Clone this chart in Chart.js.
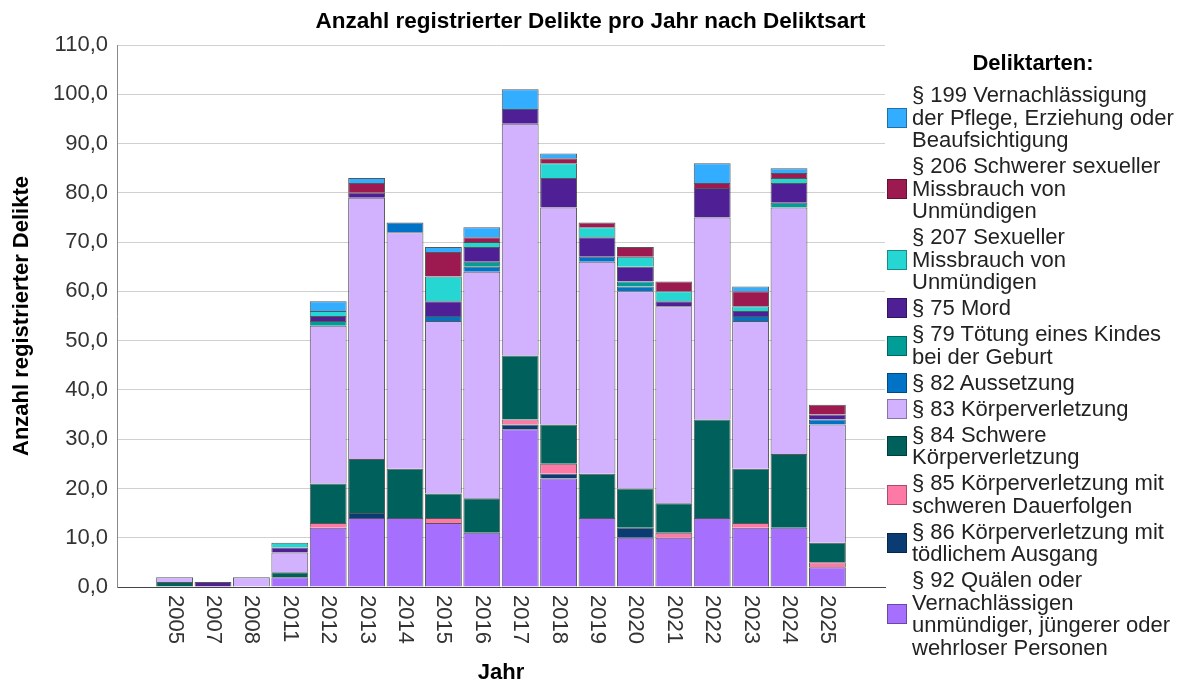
<!DOCTYPE html>
<html lang="de">
<head>
<meta charset="utf-8">
<title>Anzahl registrierter Delikte pro Jahr nach Deliktsart</title>
<script src="https://cdn.jsdelivr.net/npm/chart.js@4.4.1/dist/chart.umd.min.js"></script>
<style>
  html, body { margin: 0; padding: 0; background: #fff; }
  body { width: 1181px; height: 684px; position: relative; overflow: hidden;
         font-family: "Liberation Sans", Arial, sans-serif; }
  #wrap { position: absolute; left: 0; top: 0; width: 1181px; height: 684px; }
  #title { position: absolute; left: 0; top: 8px; width: 1181px; text-align: center;
           font-size: 22.5px; font-weight: bold; line-height: 25px; color: #000; }
  #legend { position: absolute; left: 885px; top: 50px; width: 296px; }
  #legend .head { font-size: 22px; font-weight: bold; line-height: 25px; text-align: center;
                  margin-bottom: 9px; color: #000; }
  .item { display: flex; align-items: center; margin-bottom: 3.5px; }
  .box { flex: none; width: 20px; height: 20px; margin-left: 2px; margin-right: 5px;
         box-sizing: border-box; border: 1px solid rgba(0,0,0,0.35); }
  .txt { font-size: 22px; line-height: 22.5px; color: #222; white-space: pre-line; }
</style>
</head>
<body>
<div id="wrap"><canvas id="chart" width="1181" height="684"></canvas></div>
<div id="title">Anzahl registrierter Delikte pro Jahr nach Deliktsart</div>
<div id="legend"><div class="head">Deliktarten:</div></div>
<script>
// years on the x axis
const years = ['2005', '2007', '2008', '2011', '2012', '2013', '2014', '2015', '2016',
               '2017', '2018', '2019', '2020', '2021', '2022', '2023', '2024', '2025'];

// counts per offence type (stack order, bottom first)
const p92  = [0, 0, 0, 2, 12, 14, 14, 13, 11, 32, 22, 14, 10, 10, 14, 12, 12, 4];
const p86  = [0, 0, 0, 0, 0, 1, 0, 0, 0, 1, 1, 0, 2, 0, 0, 0, 0, 0];
const p85  = [0, 0, 0, 0, 1, 0, 0, 1, 0, 1, 2, 0, 0, 1, 0, 1, 0, 1];
const p84  = [1, 0, 0, 1, 8, 11, 10, 5, 7, 13, 8, 9, 8, 6, 20, 11, 15, 4];
const p83  = [1, 0, 2, 4, 32, 53, 48, 35, 46, 47, 44, 43, 40, 40, 41, 30, 50, 24];
const p82  = [0, 0, 0, 0, 0, 0, 2, 1, 1, 0, 0, 1, 1, 0, 0, 1, 0, 1];
const p79  = [0, 0, 0, 0, 1, 0, 0, 0, 1, 0, 0, 0, 1, 0, 0, 0, 1, 0];
const p75  = [0, 1, 0, 1, 1, 1, 0, 3, 3, 3, 6, 4, 3, 1, 6, 1, 4, 1];
const p207 = [0, 0, 0, 1, 1, 0, 0, 5, 1, 0, 3, 2, 2, 2, 0, 1, 1, 0];
const p206 = [0, 0, 0, 0, 0, 2, 0, 5, 1, 0, 1, 1, 2, 2, 1, 3, 1, 2];
const p199 = [0, 0, 0, 0, 2, 1, 0, 1, 2, 4, 1, 0, 0, 0, 4, 1, 1, 0];

const yTicks = [0, 10, 20, 30, 40, 50, 60, 70, 80, 90, 100, 110];

const series = [
  { label: '§ 92 Quälen oder\nVernachlässigen\nunmündiger, jüngerer oder\nwehrloser Personen', data: p92, color: '#a66ffe' },
  { label: '§ 86 Körperverletzung mit\ntödlichem Ausgang', data: p86, color: '#0b3b73' },
  { label: '§ 85 Körperverletzung mit\nschweren Dauerfolgen', data: p85, color: '#ff79a6' },
  { label: '§ 84 Schwere\nKörperverletzung', data: p84, color: '#00605b' },
  { label: '§ 83 Körperverletzung', data: p83, color: '#d2b2ff' },
  { label: '§ 82 Aussetzung', data: p82, color: '#0073c7' },
  { label: '§ 79 Tötung eines Kindes\nbei der Geburt', data: p79, color: '#009e97' },
  { label: '§ 75 Mord', data: p75, color: '#4f1f96' },
  { label: '§ 207 Sexueller\nMissbrauch von\nUnmündigen', data: p207, color: '#25d6d2' },
  { label: '§ 206 Schwerer sexueller\nMissbrauch von\nUnmündigen', data: p206, color: '#9d1a51' },
  { label: '§ 199 Vernachlässigung\nder Pflege, Erziehung oder\nBeaufsichtigung', data: p199, color: '#33adff' }
];

// one empty slot on each side, like the original axis
const pad = arr => [null, ...arr.map(v => (v === 0 ? null : v)), null];
const labels = ['', ...years, ''];

const FONT = '"Liberation Sans", Arial, sans-serif';

// draws year labels turned clockwise (reading top to bottom)
const yearLabels = {
  id: 'yearLabels',
  afterDraw(chart) {
    const xs = chart.scales.x;
    const ctx = chart.ctx;
    ctx.save();
    ctx.font = '22px ' + FONT;
    ctx.fillStyle = '#333';
    ctx.textAlign = 'left';
    ctx.textBaseline = 'middle';
    chart.data.labels.forEach((lab, i) => {
      if (!lab) return;
      ctx.save();
      ctx.translate(xs.getPixelForValue(i), xs.top + 8);
      ctx.rotate(Math.PI / 2);
      ctx.fillText(lab, 0, 0);
      ctx.restore();
    });
    ctx.restore();
  }
};

const chart = new Chart(document.getElementById('chart'), {
  type: 'bar',
  data: {
    labels: labels,
    datasets: series.map(s => ({
      label: s.label,
      data: pad(s.data),
      backgroundColor: s.color,
      borderColor: 'rgba(45,45,45,0.8)',
      borderWidth: 1,
      barPercentage: 1,
      categoryPercentage: 0.96
    }))
  },
  options: {
    responsive: false,
    animation: false,
    layout: { padding: { left: 4, right: 296, top: 45, bottom: 0 } },
    plugins: {
      legend: { display: false },
      tooltip: { enabled: false }
    },
    scales: {
      x: {
        stacked: true,
        afterFit: scale => { scale.height = 97; },
        grid: { display: false },
        border: { color: '#444' },
        ticks: {
          color: 'rgba(0,0,0,0)',
          font: { family: FONT, size: 22 },
          minRotation: 90, maxRotation: 90,
          autoSkip: false,
          padding: 8
        },
        title: {
          display: true, text: 'Jahr', color: '#000',
          font: { family: FONT, size: 22, weight: 'bold', lineHeight: 1 },
          padding: { top: 18, bottom: 0 }
        }
      },
      y: {
        stacked: true,
        min: yTicks[0], max: yTicks[yTicks.length - 1],
        afterBuildTicks: scale => { scale.ticks = yTicks.map(v => ({ value: v })); },
        afterFit: scale => { scale.width = 113; },
        grid: { color: '#d0d0d0', drawTicks: false },
        border: { color: '#8a8a8a' },
        ticks: {
          color: '#333',
          font: { family: FONT, size: 22 },
          padding: 9,
          callback: v => v.toFixed(1).replace('.', ',')
        },
        title: {
          display: true, text: 'Anzahl registrierter Delikte', color: '#000',
          font: { family: FONT, size: 22, weight: 'bold' },
          padding: { top: 5, bottom: 9 }
        }
      }
    }
  },
  plugins: [yearLabels]
});

// legend, top entry = top of the stack
const legend = document.getElementById('legend');
chart.data.datasets.slice().reverse().forEach(ds => {
  const item = document.createElement('div');
  item.className = 'item';
  const box = document.createElement('div');
  box.className = 'box';
  box.style.background = ds.backgroundColor;
  const txt = document.createElement('div');
  txt.className = 'txt';
  txt.textContent = ds.label;
  item.appendChild(box);
  item.appendChild(txt);
  legend.appendChild(item);
});
</script>
</body>
</html>
